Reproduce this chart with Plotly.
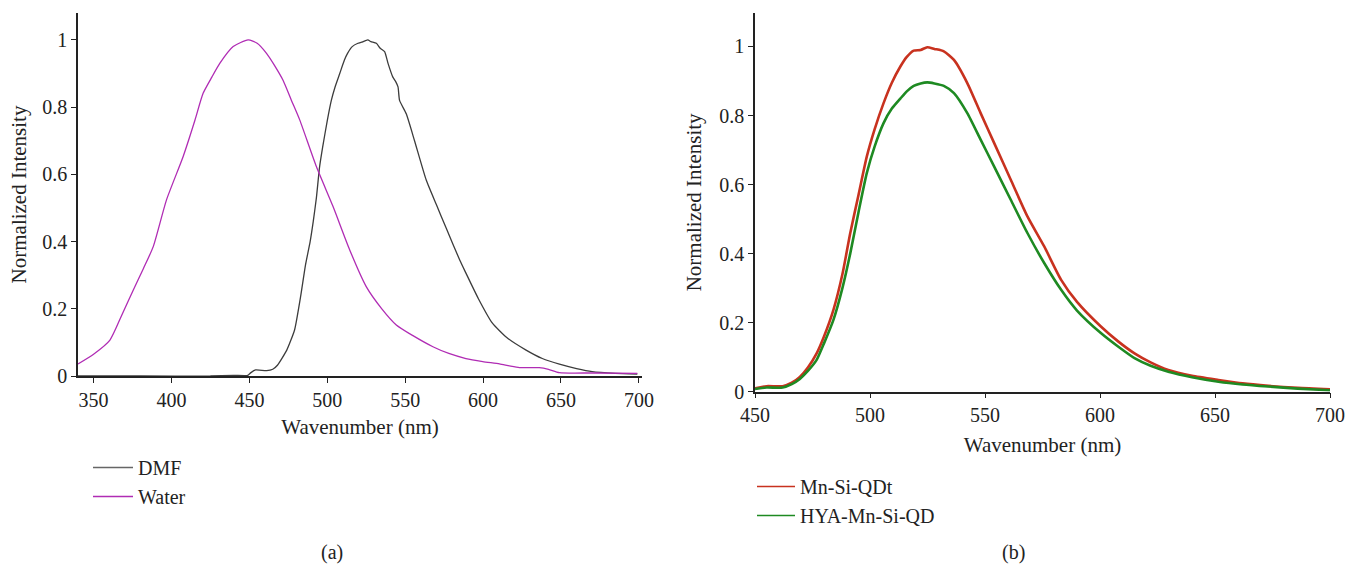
import plotly.graph_objects as go

# ---- Data ----
dmf_x = [340, 380, 425, 440, 449, 451, 454, 461, 465, 468, 474, 479, 483, 486, 489, 491, 493, 495, 497,
         500, 502.6, 505, 508, 511, 513, 516, 519.7, 522, 526, 528, 531.5, 534, 536.8, 539, 542, 544,
         545.4, 546.4, 550.7, 556, 563.5, 570, 576.3, 585, 589, 597, 606, 615, 627.6, 638, 649, 660,
         670, 685, 699]
dmf_y = [0.0, 0.0, 0.0, 0.002, 0.002, 0.01, 0.018, 0.016, 0.02, 0.032, 0.077, 0.137, 0.24, 0.33, 0.40,
         0.46, 0.53, 0.62, 0.68, 0.76, 0.82, 0.86, 0.90, 0.94, 0.96, 0.98, 0.99, 0.993, 1.0, 0.995, 0.99,
         0.975, 0.965, 0.93, 0.89, 0.875, 0.86, 0.82, 0.78, 0.70, 0.583, 0.51, 0.44, 0.345, 0.306, 0.23,
         0.157, 0.115, 0.077, 0.052, 0.035, 0.022, 0.013, 0.008, 0.006]

water_x = [340, 350, 360.5, 368, 375.5, 382, 388.3, 396.8, 407.5, 415, 420.3, 426, 431, 439.6, 449.2,
           455, 461, 466, 471.6, 477, 482.3, 493, 503.7, 514.4, 525, 535, 544.3, 555, 567.8, 578, 589,
           599.8, 610.5, 617, 623.3, 630, 636, 642, 649, 670, 699]
water_y = [0.036, 0.065, 0.107, 0.18, 0.256, 0.32, 0.385, 0.524, 0.653, 0.76, 0.841, 0.89, 0.93, 0.98,
           1.0, 0.99, 0.96, 0.925, 0.88, 0.82, 0.762, 0.623, 0.504, 0.375, 0.266, 0.20, 0.152, 0.12,
           0.087, 0.067, 0.052, 0.043, 0.036, 0.03, 0.025, 0.025, 0.025, 0.02, 0.01, 0.009, 0.008]

qdt_x = [450, 455, 462, 466, 469.5, 473, 476.8, 480, 484.1, 488, 491.4, 495, 498.6, 502, 505.9, 509.5,
         513.2, 516, 519, 522, 524.9, 528, 532.1, 536.5, 542.3, 548.1, 554, 561.2, 568.5, 575.8, 583.1,
         590, 600.5, 608, 615, 622, 629.7, 640, 651.5, 662, 673.3, 686, 700]
qdt_y = [0.01, 0.016, 0.016, 0.026, 0.043, 0.07, 0.111, 0.16, 0.237, 0.34, 0.459, 0.57, 0.681, 0.76,
         0.836, 0.895, 0.942, 0.97, 0.988, 0.99, 0.998, 0.993, 0.986, 0.961, 0.894, 0.807, 0.72, 0.614,
         0.507, 0.42, 0.324, 0.26, 0.188, 0.145, 0.111, 0.085, 0.063, 0.046, 0.034, 0.024, 0.017, 0.011,
         0.007]

hya_x = qdt_x
hya_y = [0.008, 0.012, 0.012, 0.022, 0.037, 0.06, 0.092, 0.14, 0.208, 0.30, 0.40, 0.52, 0.633, 0.71,
         0.778, 0.82, 0.849, 0.87, 0.886, 0.893, 0.896, 0.893, 0.886, 0.865, 0.807, 0.73, 0.652, 0.556,
         0.459, 0.372, 0.295, 0.235, 0.169, 0.13, 0.097, 0.075, 0.058, 0.042, 0.029, 0.021, 0.015,
         0.009, 0.004]

left_xticks = [350, 400, 450, 500, 550, 600, 650, 700]
right_xticks = [450, 500, 550, 600, 650, 700]
yticks = [0, 0.2, 0.4, 0.6, 0.8, 1]

FONT = "Liberation Serif"
W, H = 1346, 564
C_DMF, C_WAT, C_RED, C_GRN = "#3c3c3c", "#b02cb4", "#c8321f", "#1e8a22"

fig = go.Figure()
# data traces
fig.add_trace(go.Scatter(x=dmf_x, y=dmf_y, mode="lines", name="DMF", showlegend=False,
                         line=dict(color=C_DMF, width=1.3, shape="spline", smoothing=0.5),
                         xaxis="x", yaxis="y"))
fig.add_trace(go.Scatter(x=water_x, y=water_y, mode="lines", name="Water", showlegend=False,
                         line=dict(color=C_WAT, width=1.3, shape="spline", smoothing=0.6),
                         xaxis="x", yaxis="y"))
fig.add_trace(go.Scatter(x=qdt_x, y=qdt_y, mode="lines", name="Mn-Si-QDt", showlegend=False,
                         line=dict(color=C_RED, width=2.6, shape="spline", smoothing=0.6),
                         xaxis="x2", yaxis="y2"))
fig.add_trace(go.Scatter(x=hya_x, y=hya_y, mode="lines", name="HYA-Mn-Si-QD", showlegend=False,
                         line=dict(color=C_GRN, width=2.6, shape="spline", smoothing=0.6),
                         xaxis="x2", yaxis="y2"))
# legend entries (thin sample lines as in the reference)
for nm, col, lg, grp, ax in [("DMF", "#666666", "legend", "a1", ("x", "y")),
                             ("Water", C_WAT, "legend", "a2", ("x", "y")),
                             ("Mn-Si-QDt", C_RED, "legend2", "b1", ("x2", "y2")),
                             ("HYA-Mn-Si-QD", C_GRN, "legend2", "b2", ("x2", "y2"))]:
    fig.add_trace(go.Scatter(x=[None], y=[None], mode="lines", name=nm,
                             line=dict(color=col, width=1.3), legend=lg, legendgroup=grp,
                             xaxis=ax[0], yaxis=ax[1], hoverinfo="skip"))

axis_common = dict(showline=True, linecolor="#222", linewidth=1.5, ticks="outside", ticklen=5,
                   tickcolor="#222", showgrid=False, zeroline=False, automargin=False,
                   tickfont=dict(family=FONT, size=20, color="#222"))
TF = dict(family=FONT, size=21, color="#222")

fig.update_layout(
    width=W, height=H, margin=dict(l=0, r=0, t=0, b=0, autoexpand=False),
    paper_bgcolor="white", plot_bgcolor="white",
    font=dict(family=FONT, color="#222"),
    xaxis=dict(domain=[78 / W, 642 / W], range=[340, 702], tickvals=left_xticks,
               anchor="y", title=dict(text="Wavenumber (nm)", font=TF, standoff=10),
               **axis_common),
    yaxis=dict(domain=[(H - 376) / H, (H - 13) / H], range=[0, 1.08], tickvals=yticks,
               anchor="x", title=dict(text="Normalized Intensity", font=TF, standoff=10),
               **axis_common),
    xaxis2=dict(domain=[755 / W, 1330 / W], range=[450, 700], tickvals=right_xticks,
                anchor="y2", title=dict(text="Wavenumber (nm)", font=TF, standoff=12),
                **axis_common),
    yaxis2=dict(domain=[(H - 391.7) / H, (H - 13) / H], range=[0, 1.097], tickvals=yticks,
                anchor="x2", title=dict(text="Normalized Intensity", font=TF, standoff=12),
                **axis_common),
    legend=dict(x=88 / W, y=(H - 448) / H, xanchor="left", yanchor="top",
                font=dict(family=FONT, size=20), bgcolor="rgba(0,0,0,0)",
                tracegroupgap=0, itemwidth=40),
    legend2=dict(x=752 / W, y=(H - 467) / H, xanchor="left", yanchor="top",
                 font=dict(family=FONT, size=20), bgcolor="rgba(0,0,0,0)",
                 tracegroupgap=0, itemwidth=38),
    annotations=[
        dict(text="(a)", x=332 / W, y=(H - 552) / H, xref="paper", yref="paper",
             xanchor="center", yanchor="middle", showarrow=False,
             font=dict(family=FONT, size=20)),
        dict(text="(b)", x=1013 / W, y=(H - 552) / H, xref="paper", yref="paper",
             xanchor="center", yanchor="middle", showarrow=False,
             font=dict(family=FONT, size=20)),
    ],
)

fig.write_html("out.html")
